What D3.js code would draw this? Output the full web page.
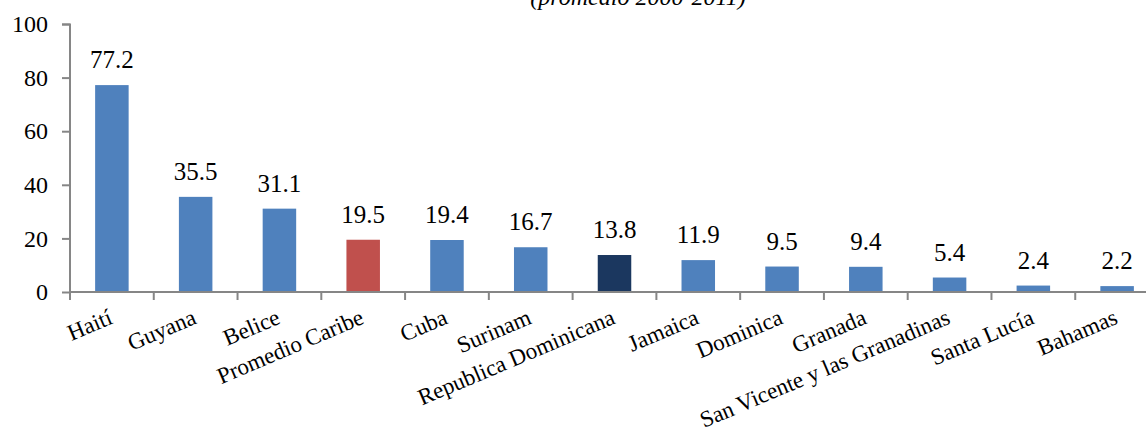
<!DOCTYPE html>
<html>
<head>
<meta charset="utf-8">
<script src="https://cdn.jsdelivr.net/npm/d3@7"></script>
<style>
  body { margin: 0; background: #fff; }
  svg { display: block; font-family: "Liberation Serif", "Times New Roman", serif; }
</style>
</head>
<body>
<svg id="chart"></svg>
<script>
const width = 1146;
const height = 435;
const margin = { top: 24, right: -13, bottom: 143, left: 70 };
const innerWidth = width - margin.left - margin.right;
const innerHeight = height - margin.top - margin.bottom;

const countries = [
  "Haití", "Guyana", "Belice", "Promedio Caribe", "Cuba", "Surinam",
  "Republica Dominicana", "Jamaica", "Dominica", "Granada",
  "San Vicente y las Granadinas", "Santa Lucía", "Bahamas"
];
const values = [77.2, 35.5, 31.1, 19.5, 19.4, 16.7, 13.8, 11.9, 9.5, 9.4, 5.4, 2.4, 2.2];
const yTicks = [0, 20, 40, 60, 80, 100];
const highlight = { "Promedio Caribe": "#c0504d", "Republica Dominicana": "#1b375f" };

const data = countries.map((c, i) => ({ country: c, value: values[i] }));

const svg = d3.select("#chart").attr("width", width).attr("height", height);

svg.append("text")
  .attr("x", 638)
  .attr("y", 5)
  .attr("text-anchor", "middle")
  .attr("font-size", 24)
  .attr("font-style", "italic")
  .text("(promedio 2000-2011)");

const root = svg.append("g").attr("transform", `translate(${margin.left},${margin.top})`);

const x = d3.scaleBand().domain(countries).range([0, innerWidth]).paddingInner(0.6).paddingOuter(0.3);
const y = d3.scaleLinear().domain([0, 100]).range([innerHeight, 0]);

// bars
root.append("g")
  .selectAll("rect")
  .data(data)
  .join("rect")
  .attr("x", (d) => x(d.country))
  .attr("y", (d) => y(d.value))
  .attr("width", x.bandwidth())
  .attr("height", (d) => innerHeight - y(d.value))
  .attr("fill", (d) => highlight[d.country] || "#4f81bd");

// value labels
root.append("g")
  .selectAll("text")
  .data(data)
  .join("text")
  .attr("x", (d) => x(d.country) + x.bandwidth() / 2)
  .attr("y", (d) => y(d.value) - 17)
  .attr("text-anchor", "middle")
  .attr("font-size", 25)
  .attr("fill", "#000")
  .text((d) => d.value.toFixed(1));

// y axis
root.append("g")
  .call(d3.axisLeft(y).tickValues(yTicks).tickSize(8).tickPadding(14).tickFormat(d3.format("d")))
  .call((g) => g.selectAll("line,path").attr("stroke", "#868686").attr("stroke-width", 2))
  .call((g) => g.select(".domain").attr("d", `M-8,0.5H0V${innerHeight}`))
  .call((g) => g.selectAll("text").attr("font-size", 24).attr("font-family", "Liberation Serif, serif").attr("fill", "#000").attr("dy", "0.32em"));

// x axis with ticks at band boundaries
const step = x.step();
const boundaries = d3.range(countries.length + 1).map((i) => i * step);
const xAxisG = root.append("g").attr("transform", `translate(0,${innerHeight})`);
xAxisG.append("line")
  .attr("x1", 0).attr("x2", innerWidth)
  .attr("stroke", "#868686").attr("stroke-width", 2);
xAxisG.selectAll("line.tick")
  .data(boundaries)
  .join("line")
  .attr("class", "tick")
  .attr("x1", (d) => d).attr("x2", (d) => d)
  .attr("y1", 0).attr("y2", 8)
  .attr("stroke", "#868686").attr("stroke-width", 2);

xAxisG.selectAll("text")
  .data(countries)
  .join("text")
  .attr("text-anchor", "end")
  .attr("font-size", 23)
  .attr("transform", (d) => `translate(${x(d) + x.bandwidth() / 2 + 2},31) rotate(-23)`)
  .text((d) => d);
</script>
</body>
</html>
